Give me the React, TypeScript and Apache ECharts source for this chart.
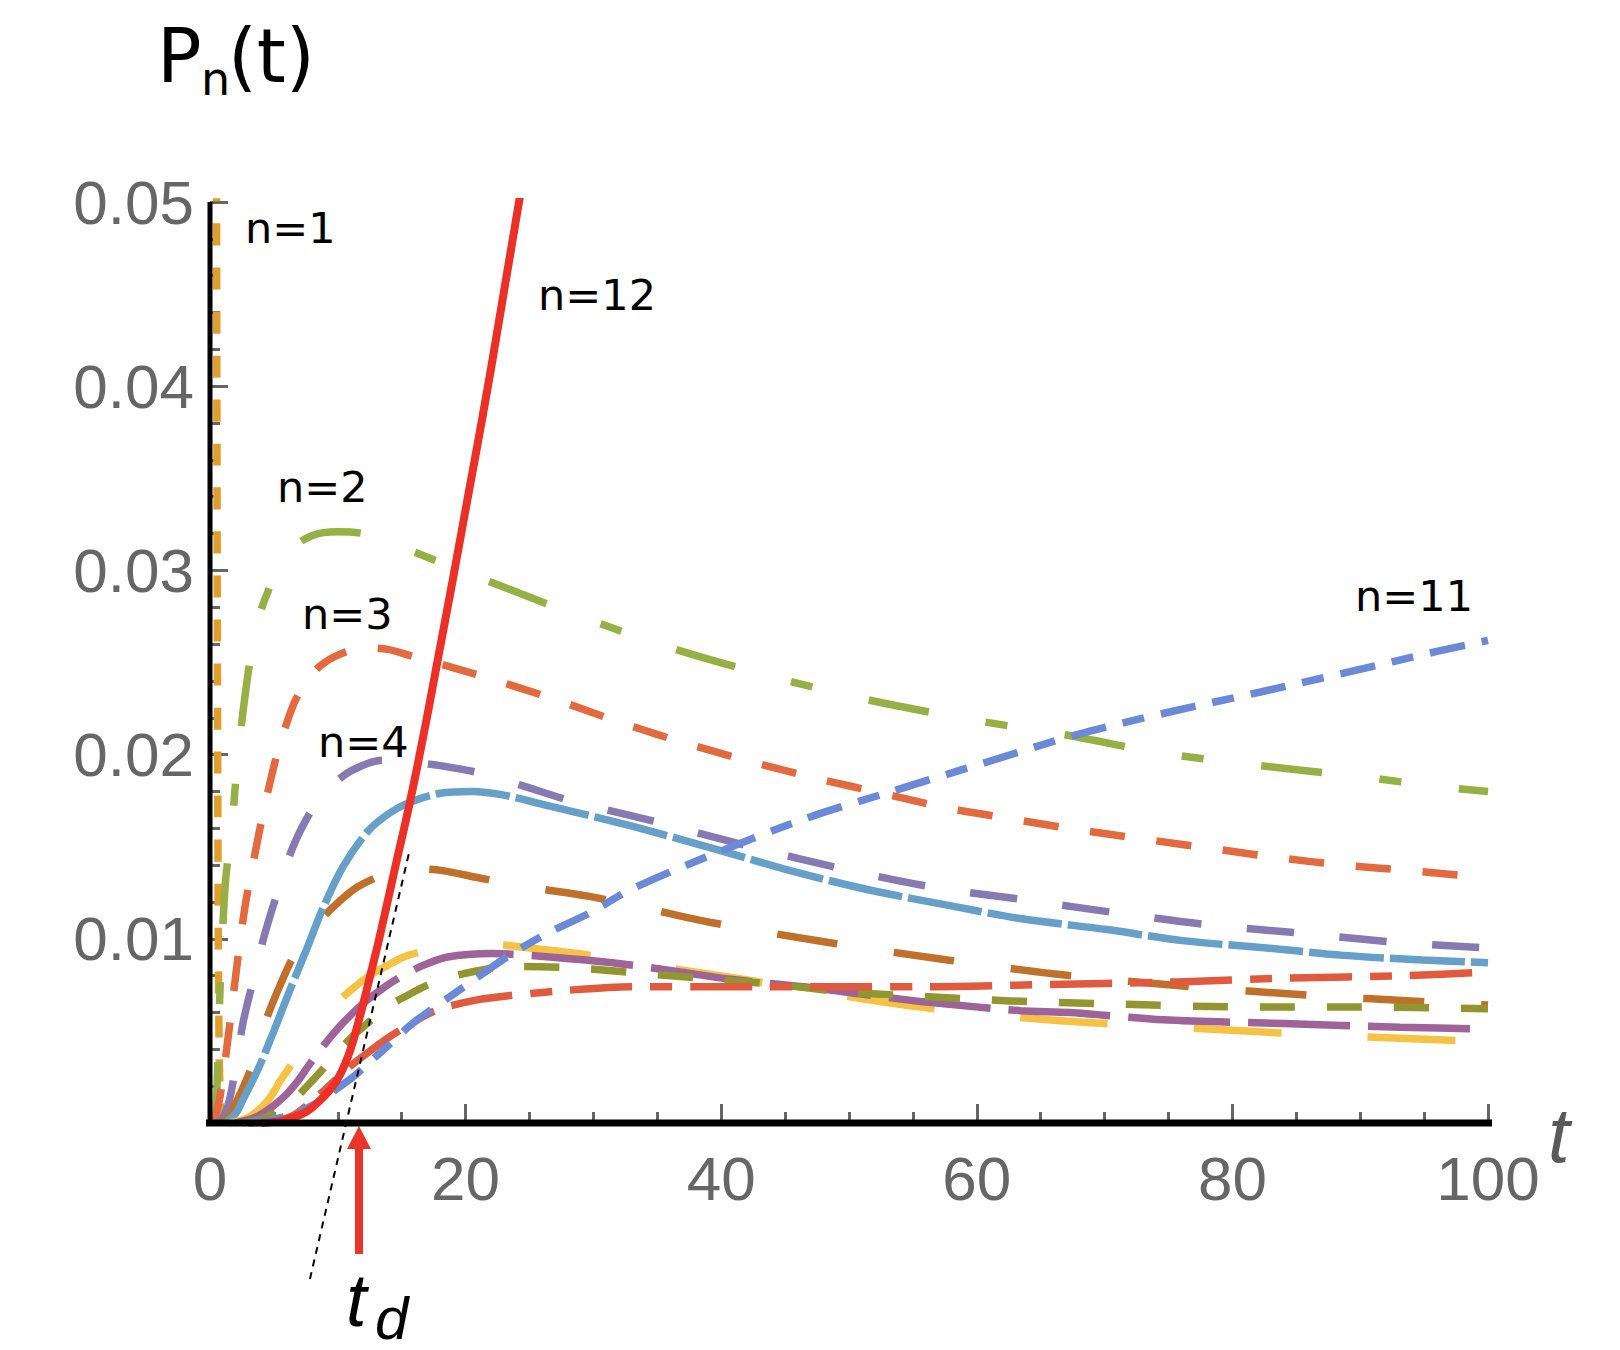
import React, { useEffect, useRef } from "react";
import * as echarts from "echarts";

// P_n(t) curves, [t, P] pairs
const n1 = [[0.5, 0.056], [0.55, 0.035], [0.6, 0.02], [0.65, 0.01], [0.72, 0.004], [0.82, 0.001], [1.0, 0]];
const n2 = [[0.4, 0], [0.55, 0.002], [0.8, 0.0075], [1.2, 0.013], [1.7, 0.016], [2.2, 0.02], [3.0, 0.0245], [3.75, 0.0273], [5, 0.0296], [6.3, 0.0311], [8, 0.0319], [10, 0.0321], [12, 0.032], [14, 0.0316], [16, 0.031], [18.5, 0.0303], [21.1, 0.0296], [28.6, 0.0276], [36, 0.0258], [43.6, 0.0243], [51.3, 0.023], [59.5, 0.0219], [66.7, 0.0211], [74.3, 0.0201], [82.2, 0.0194], [90, 0.0188], [96.9, 0.0182], [100, 0.018]];
const n3 = [[0.25, 0], [0.5, 0.0006], [0.8, 0.0015], [1.3, 0.004], [1.8, 0.0068], [2.3, 0.0096], [2.8, 0.012], [3.4, 0.0142], [4.0, 0.0163], [4.6, 0.0182], [5.2, 0.0199], [5.9, 0.0215], [6.65, 0.0229], [7.6, 0.024], [8.6, 0.0248], [10, 0.0254], [12, 0.0258], [14, 0.0257], [16, 0.0253], [18.6, 0.0248], [22.5, 0.024], [27.4, 0.0229], [32.3, 0.0217], [37.3, 0.0206], [42.4, 0.0196], [47.5, 0.0187], [52.6, 0.0179], [57.7, 0.0171], [62.8, 0.0165], [68.1, 0.0159], [73.2, 0.0154], [78.4, 0.0149], [83.6, 0.0144], [88.7, 0.014], [93.9, 0.0137], [100, 0.0133]];
const n4 = [[0.5, 0], [1.0, 0.0003], [1.5, 0.0012], [2.0, 0.003], [2.6, 0.0055], [3.4, 0.0078], [4.3, 0.0103], [5.5, 0.013], [6.5, 0.015], [7.8, 0.0168], [9.2, 0.0181], [11, 0.0191], [13.5, 0.0197], [15.6, 0.0196], [18, 0.0194], [21.1, 0.019], [24.5, 0.0183], [28.2, 0.0175], [35.2, 0.0163], [42.3, 0.015], [49.5, 0.0138], [56.6, 0.0128], [63.9, 0.0121], [71, 0.0114], [78.2, 0.01075], [85.5, 0.0103], [92.9, 0.0098], [100, 0.0095]];
const n5 = [[0.8, 0], [1.5, 0.0004], [2.1, 0.0012], [3.0, 0.0026], [3.7, 0.0041], [4.5, 0.0058], [5.5, 0.0075], [6.5, 0.009], [8, 0.0105], [9.6, 0.0117], [11.5, 0.0128], [13.7, 0.0135], [16, 0.0138], [18.2, 0.0137], [21.1, 0.0133], [25, 0.0128], [29.7, 0.0123], [34.5, 0.0116], [39.1, 0.0109], [48.4, 0.0098], [57.7, 0.00885], [66, 0.0081], [76.7, 0.0074], [85.8, 0.00695], [95.2, 0.00657], [100, 0.0064]];
const n6 = [[1.2, 0], [2.0, 0.0005], [2.6, 0.0013], [3.75, 0.0029], [5, 0.005], [6.3, 0.0073], [7.6, 0.0095], [8.8, 0.0116], [10.4, 0.0139], [12.3, 0.0158], [14, 0.0168], [15.6, 0.0174], [18, 0.0179], [20.5, 0.018], [23, 0.0178], [26.6, 0.0172], [33.1, 0.0161], [39.4, 0.0149], [45.4, 0.0137], [51.6, 0.01265], [57.9, 0.0118], [63.4, 0.0111], [70.2, 0.0105], [76.1, 0.0099], [82.7, 0.0095], [88.7, 0.0091], [94.9, 0.00885], [100, 0.0087]];
const n7 = [[1.5, 0], [3, 0.0003], [4.5, 0.0012], [5.6, 0.0024], [7, 0.0038], [8.3, 0.0051], [9.6, 0.0063], [11, 0.0072], [12.5, 0.008], [14, 0.0086], [15.5, 0.0091], [18, 0.0095], [22, 0.0097], [25, 0.0095], [28.8, 0.0092], [33, 0.0087], [37, 0.0083], [41.7, 0.0078], [47, 0.0072], [52.4, 0.0066], [58, 0.0061], [63.9, 0.0057], [70, 0.0054], [79.6, 0.00505], [86, 0.0048], [93.1, 0.0046], [100, 0.0044]];
const n8 = [[2, 0], [3.5, 0.0003], [4.7, 0.0008], [5.9, 0.0015], [6.9, 0.0023], [7.7, 0.0031], [9, 0.0043], [10.5, 0.0055], [12, 0.0065], [13.3, 0.0072], [14.6, 0.0078], [16.5, 0.0085], [18.5, 0.009], [22.1, 0.0092], [26.8, 0.009], [31.5, 0.0087], [36.8, 0.0082], [40.7, 0.0078], [46.4, 0.0074], [51, 0.007], [55.6, 0.0066], [63.4, 0.0061], [67.3, 0.006], [74.6, 0.0056], [84, 0.0054], [93.1, 0.0052], [100, 0.0051]];
const n9 = [[2.5, 0], [4, 0.0002], [5.2, 0.0006], [6.2, 0.001], [7.2, 0.0017], [8.8, 0.0029], [9.9, 0.0038], [11.3, 0.0048], [12.8, 0.0057], [14.1, 0.0064], [15.1, 0.0068], [17.4, 0.0076], [19.8, 0.0081], [23.7, 0.0085], [28.9, 0.0084], [34.2, 0.0081], [39.4, 0.0078], [44.6, 0.0075], [49.8, 0.0071], [55, 0.0069], [60.3, 0.0067], [64.9, 0.00657], [70.7, 0.00646], [81.1, 0.0063], [90, 0.0063], [100, 0.0062]];
const n10 = [[3, 0], [5, 0.0001], [6.5, 0.0004], [8, 0.0012], [9.6, 0.0022], [11, 0.0031], [12.5, 0.0039], [14.1, 0.0047], [15.5, 0.0053], [17, 0.0059], [18.5, 0.0063], [21, 0.0067], [23.2, 0.0069], [27.9, 0.0072], [32.9, 0.0074], [38, 0.0074], [43.3, 0.0074], [49.3, 0.0074], [56, 0.0074], [64.4, 0.0075], [75.7, 0.00766], [84.3, 0.00787], [93.7, 0.008], [100, 0.0082]];
const n11 = [[3, 0], [5, 0.0002], [6.5, 0.0005], [8.4, 0.0011], [9.8, 0.0018], [11.2, 0.0025], [12.8, 0.0035], [14.1, 0.0043], [15.5, 0.0052], [17, 0.006], [20.1, 0.0075], [23.2, 0.009], [26.4, 0.0103], [29.7, 0.0114], [33, 0.0127], [40.1, 0.0148], [46.9, 0.0166], [53.8, 0.0181], [60.8, 0.0196], [67.9, 0.0211], [75, 0.0223], [82.2, 0.0234], [89.2, 0.0245], [96, 0.0256], [100, 0.0262]];
const n12 = [[4, 0], [5.5, 0.0001], [6.5, 0.0003], [7.5, 0.0006], [8.25, 0.001], [9, 0.0015], [9.5, 0.0019], [10, 0.0024], [10.5, 0.0031], [11, 0.004], [11.5, 0.0052], [12, 0.0065], [12.5, 0.0079], [13, 0.0093], [13.5, 0.0108], [14.5, 0.0139], [16, 0.0186], [18, 0.0258], [20, 0.0333], [22, 0.041], [24.3, 0.0505]];

// tangent (dashed) line and t_d marker
const tangent = [[7.82, -0.00847], [15.57, 0.01466]];
const tD = 11.66;

const curveLabels = ["n=1", "n=2", "n=3", "n=4", "n=11", "n=12"];

export default function App() {
  const ref = useRef<HTMLDivElement>(null);
  useEffect(() => {
    if (!ref.current) return;
    const chart = echarts.init(ref.current, null, { renderer: "svg" });
    const curve = (data: number[][], color: string, dash: any, width = 7.5, smooth = 0.3) => ({
      type: "line",
      data,
      symbol: "none",
      showSymbol: false,
      smooth,
      silent: true,
      clip: true,
      lineStyle: { color, width, type: dash, cap: "butt" },
    });
    const tickStyle = { color: "#666", width: 3 };
    const option: any = {
      animation: false,
      grid: { left: 210, right: 132, top: 202, bottom: 227 },
      xAxis: {
        type: "value",
        min: 0,
        max: 100,
        interval: 20,
        axisLine: { show: false },
        axisTick: { show: true, inside: true, length: 19, lineStyle: tickStyle },
        minorTick: { show: true, splitNumber: 4, length: 11, lineStyle: tickStyle },
        splitLine: { show: false },
        minorSplitLine: { show: false },
        axisLabel: { fontSize: 62, color: "#666", fontFamily: "Liberation Sans", margin: 24 },
      },
      yAxis: {
        type: "value",
        min: 0,
        max: 0.05,
        interval: 0.01,
        axisLine: { show: false },
        axisTick: { show: true, inside: true, length: 18, lineStyle: tickStyle },
        minorTick: { show: true, splitNumber: 5, length: 10, lineStyle: tickStyle },
        splitLine: { show: false },
        minorSplitLine: { show: false },
        axisLabel: {
          fontSize: 62,
          color: "#666",
          fontFamily: "Liberation Sans",
          margin: 16,
          formatter: (v: number) => (v === 0 ? "" : v.toFixed(2)),
        },
      },
      series: [
        curve(n1, "#E09E2C", [22, 22]),
        curve(n2, "#95B045", [61, 58, 22, 58]),
        curve(n3, "#E3693F", [35, 32]),
        curve(n4, "#8779B2", [47, 46]),
        curve(n5, "#BF712B", [61, 57]),
        curve(n6, "#669FC8", [75, 6]),
        curve(n7, "#F6C243", [88, 86]),
        curve(n8, "#9E6399", [102, 18]),
        curve(n9, "#919630", [35, 32]),
        curve(n10, "#E05A3F", [62, 18, 22, 18]),
        curve(n11, "#6B89D6", [36, 17, 22, 17]),
        curve(n12, "#EB3127", "solid", 8, 0.5),
        {
          type: "line",
          data: tangent,
          symbol: "none",
          silent: true,
          clip: false,
          z: 6,
          lineStyle: { color: "#000", width: 2, type: [7, 6] },
        },
        {
          type: "line",
          data: [[-2.2, 0], [101.2, 0]],
          symbol: "none",
          silent: true,
          clip: false,
          z: 10,
          lineStyle: { color: "#000", width: 7 },
        },
        {
          type: "line",
          data: [[0, 0], [0, 0.05]],
          symbol: "none",
          silent: true,
          clip: false,
          z: 10,
          lineStyle: { color: "#000", width: 5 },
        },
      ],
    };
    chart.setOption(option);

    const px = (t: number, p: number) => chart.convertToPixel({ gridIndex: 0 }, [t, p]) as number[];
    const shaftBottom = px(tD, -0.00711);
    const headBase = px(tD, -0.00141);
    const tip = px(tD, -0.00016);
    const red = "#E8352A";
    const lbl = (text: string, x: number, y: number) => ({
      type: "text",
      x,
      y,
      silent: true,
      style: { text, fontSize: 43, fontFamily: "DejaVu Sans", fill: "#000", verticalAlign: "middle", align: "left" },
    });
    const graphic: any[] = [
      {
        type: "rect",
        silent: true,
        shape: { x: shaftBottom[0] - 4, y: headBase[1] - 1, width: 8, height: shaftBottom[1] - headBase[1] + 1 },
        style: { fill: red },
      },
      {
        type: "polygon",
        silent: true,
        shape: { points: [[tip[0], tip[1]], [tip[0] - 12, headBase[1]], [tip[0] + 12, headBase[1]]] },
        style: { fill: red },
      },
      lbl(curveLabels[0], 245, 228),
      lbl(curveLabels[1], 277, 487),
      lbl(curveLabels[2], 302, 614),
      lbl(curveLabels[3], 318, 742),
      lbl(curveLabels[4], 1355, 596),
      lbl(curveLabels[5], 538, 295),
      { type: "text", x: 157, y: 56, silent: true, style: { text: "P", fontSize: 74, fontFamily: "DejaVu Sans", fill: "#000", verticalAlign: "middle" } },
      { type: "text", x: 201, y: 79, silent: true, style: { text: "n", fontSize: 46, fontFamily: "DejaVu Sans", fill: "#000", verticalAlign: "middle" } },
      { type: "text", x: 228, y: 56, silent: true, style: { text: "(t)", fontSize: 74, fontFamily: "DejaVu Sans", fill: "#000", verticalAlign: "middle" } },
      { type: "text", x: 1548, y: 1135, silent: true, style: { text: "t", fontSize: 78, fontStyle: "italic", fontFamily: "Liberation Sans", fill: "#5a5a5a", verticalAlign: "middle" } },
      { type: "text", x: 346, y: 1300, silent: true, style: { text: "t", fontSize: 74, fontStyle: "italic", fontFamily: "Liberation Sans", fill: "#000", verticalAlign: "middle" } },
      { type: "text", x: 375, y: 1318, silent: true, style: { text: "d", fontSize: 60, fontStyle: "italic", fontFamily: "Liberation Sans", fill: "#000", verticalAlign: "middle" } },
    ];
    chart.setOption({ graphic });
    return () => chart.dispose();
  }, []);
  return <div ref={ref} style={{ position: "absolute", left: 0, top: 0, width: 1620, height: 1350 }} />;
}
